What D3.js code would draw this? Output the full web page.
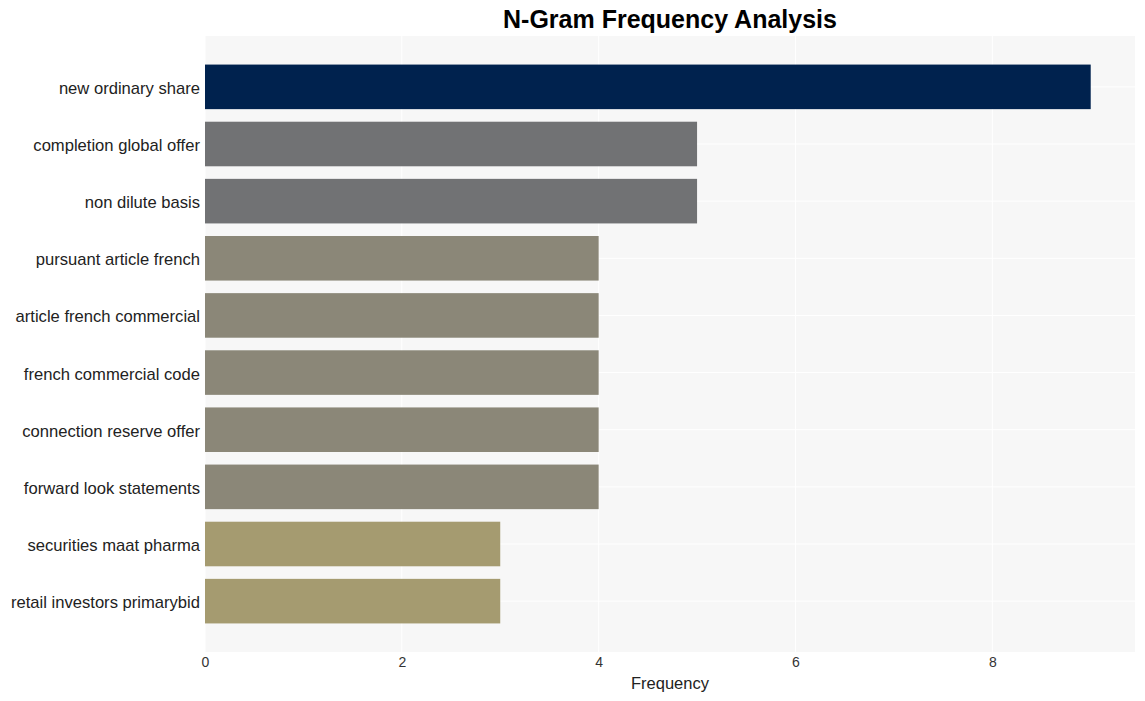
<!DOCTYPE html>
<html><head><meta charset="utf-8">
<script src="https://cdn.jsdelivr.net/npm/d3@7"></script>
<style>body{margin:0;background:#fff;}svg{display:block;font-family:"Liberation Sans",Arial,sans-serif;}</style>
</head><body>
<svg id="chart" width="1145" height="701"></svg>
<script>
const categories = ["new ordinary share","completion global offer","non dilute basis","pursuant article french","article french commercial","french commercial code","connection reserve offer","forward look statements","securities maat pharma","retail investors primarybid"];
const values = [9,5,5,4,4,4,4,4,3,3];
const colors = ["#00224e","#717274","#717274","#8b8778","#8b8778","#8b8778","#8b8778","#8b8778","#a59b70","#a59b70"];
const xTicks = [0,2,4,6,8];

const svg = d3.select("#chart");
const m = {left:205, right:10, top:36, bottom:49};
const W = 1145, H = 701;
const x = d3.scaleLinear().domain([0, 9.45]).range([m.left, W - m.right]);
const y = d3.scaleBand().domain(categories).range([m.top, H - m.bottom]).paddingInner(0.22).paddingOuter(0.5);

svg.append("rect").attr("x", m.left).attr("y", m.top).attr("width", W - m.right - m.left).attr("height", H - m.bottom - m.top).attr("fill", "#f7f7f7");

svg.append("g").selectAll("line").data(xTicks).join("line")
  .attr("x1", d => x(d)).attr("x2", d => x(d)).attr("y1", m.top).attr("y2", H - m.bottom)
  .attr("stroke", "#fff").attr("stroke-width", 1);
svg.append("g").selectAll("line").data(categories).join("line")
  .attr("x1", m.left).attr("x2", W - m.right).attr("y1", d => y(d) + y.bandwidth()/2).attr("y2", d => y(d) + y.bandwidth()/2)
  .attr("stroke", "#fff").attr("stroke-width", 1);

svg.append("g").selectAll("rect").data(categories).join("rect")
  .attr("x", x(0)).attr("y", d => y(d)).attr("height", y.bandwidth())
  .attr("width", (d, i) => x(values[i]) - x(0)).attr("fill", (d, i) => colors[i]);

const xAxis = svg.append("g").attr("transform", `translate(0,${H - m.bottom})`)
  .call(d3.axisBottom(x).tickValues(xTicks).tickSize(0).tickPadding(5));
xAxis.select(".domain").remove();
xAxis.selectAll("text").attr("font-size", 14).attr("fill", "#333").attr("font-family", "Liberation Sans, Arial, sans-serif");

const yAxis = svg.append("g").attr("transform", `translate(${m.left},0)`)
  .call(d3.axisLeft(y).tickSize(0).tickPadding(5));
yAxis.select(".domain").remove();
yAxis.selectAll("text").attr("font-size", 16.6).attr("fill", "#222").attr("dy", "0.42em").attr("font-family", "Liberation Sans, Arial, sans-serif");

svg.append("text").attr("x", (m.left + W - m.right)/2).attr("y", 689).attr("text-anchor", "middle")
  .attr("font-size", 16.5).attr("fill", "#222").text("Frequency");

svg.append("text").attr("x", (m.left + W - m.right)/2).attr("y", 28).attr("text-anchor", "middle")
  .attr("font-size", 25).attr("font-weight", "bold").attr("fill", "#000").text("N-Gram Frequency Analysis");
</script>
</body></html>
